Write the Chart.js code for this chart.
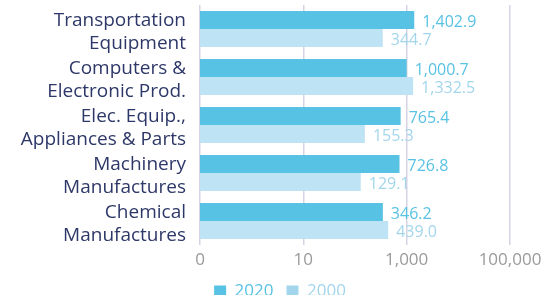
<!DOCTYPE html>
<html>
<head>
<meta charset="utf-8">
<script src="https://cdn.jsdelivr.net/npm/chart.js@4"></script>
<style>
  html, body { margin: 0; padding: 0; background: #fff; }
</style>
</head>
<body>
<canvas id="canvas" width="548" height="303"></canvas>
<script>
let categories = [
  ['Transportation', 'Equipment'],
  ['Computers &', 'Electronic Prod.'],
  ['Elec. Equip.,', 'Appliances & Parts'],
  ['Machinery', 'Manufactures'],
  ['Chemical', 'Manufactures']
];
let values2020 = [1402.9, 1000.7, 765.4, 726.8, 346.2];
let values2000 = [344.7, 1332.5, 155.3, 129.1, 439.0];
let tickValues = [0.1, 10, 1000, 100000];

let fontFamily = "'Open Sans', sans-serif";

// draws the value at the end of each bar
let valueLabels = {
  id: 'valueLabels',
  afterDatasetsDraw(chart) {
    let ctx = chart.ctx;
    ctx.save();
    ctx.font = '16px ' + fontFamily;
    ctx.textBaseline = 'middle';
    ctx.textAlign = 'left';
    chart.data.datasets.forEach((ds, i) => {
      let meta = chart.getDatasetMeta(i);
      ctx.fillStyle = ds.labelColor;
      meta.data.forEach((bar, j) => {
        let txt = ds.data[j].toLocaleString('en-US', { minimumFractionDigits: 1, maximumFractionDigits: 1 });
        ctx.fillText(txt, bar.x + 8, bar.y + 2);
      });
    });
    ctx.restore();
  }
};

// keep the legend short and place it like the original
let legendPlace = {
  id: 'legendPlace',
  beforeLayout(chart) {
    let lg = chart.legend;
    if (lg && !lg._patched) {
      let fit = lg.fit.bind(lg);
      lg.fit = function() { fit(); this.height = 25; };
      lg._patched = true;
    }
  },
  afterLayout(chart) {
    let lg = chart.legend;
    lg.top = 270;
    lg.bottom = 295;
    lg.left += 25;
    lg.right += 25;
  }
};

let ctx = document.getElementById('canvas').getContext('2d');
let chart = new Chart(ctx, {
  type: 'bar',
  data: {
    labels: categories,
    datasets: [{
      label: '2020',
      data: values2020,
      backgroundColor: '#58c2e4',
      labelColor: '#58c2e4',
      legendColor: '#58c2e4',
      categoryPercentage: 0.75,
      barPercentage: 1.0
    }, {
      label: '2000',
      data: values2000,
      backgroundColor: '#bde3f4',
      labelColor: '#a3d6ec',
      legendColor: '#a3d6ec',
      categoryPercentage: 0.75,
      barPercentage: 1.0
    }]
  },
  options: {
    indexAxis: 'y',
    responsive: false,
    animation: false,
    layout: { padding: { left: 0, right: 38, top: 5, bottom: 0 } },
    scales: {
      x: {
        type: 'logarithmic',
        min: 0.1,
        max: 100000,
        afterBuildTicks: function(axis) {
          axis.ticks = tickValues.map(v => ({ value: v }));
        },
        afterFit: function(axis) {
          axis.height = 33;
          axis.paddingLeft = 0;
          axis.paddingRight = 0;
        },
        grid: { color: '#d6d3e4', lineWidth: 1.5, drawTicks: false },
        border: { display: false },
        ticks: {
          padding: 5,
          color: '#9a9a9a',
          font: { family: fontFamily, size: 17 },
          callback: function(v) { return v < 1 ? '0' : v.toLocaleString('en-US'); }
        }
      },
      y: {
        grid: { display: false },
        border: { display: false },
        afterFit: function(axis) {
          axis.width = 200;
          axis.paddingTop = 0;
          axis.paddingBottom = 0;
        },
        ticks: {
          autoSkip: false,
          padding: 6,
          labelOffset: 3,
          color: '#2e3868',
          font: { family: fontFamily, size: 19, lineHeight: 1.2 }
        }
      }
    },
    plugins: {
      legend: {
        position: 'bottom',
        labels: {
          boxWidth: 12,
          boxHeight: 12,
          padding: 13,
          font: { family: fontFamily, size: 17 },
          generateLabels: function(chart) {
            return chart.data.datasets.map((ds, i) => ({
              text: ds.label,
              fillStyle: ds.legendColor,
              strokeStyle: ds.legendColor,
              lineWidth: 0,
              fontColor: ds.labelColor,
              datasetIndex: i
            }));
          }
        }
      },
      tooltip: { enabled: false }
    }
  },
  plugins: [valueLabels, legendPlace]
});
</script>
</body>
</html>
